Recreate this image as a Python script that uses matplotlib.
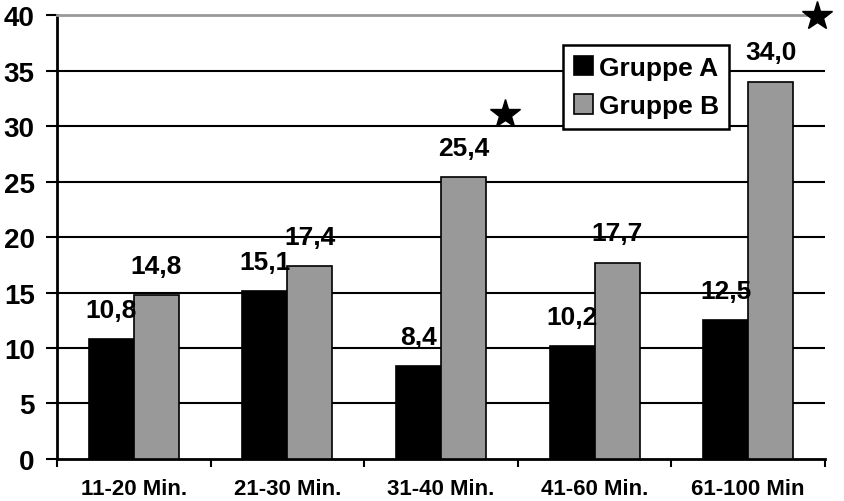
import matplotlib.pyplot as plt
import numpy as np

categories = ['11-20 Min.', '21-30 Min.', '31-40 Min.', '41-60 Min.', '61-100 Min']
gruppe_a = [10.8, 15.1, 8.4, 10.2, 12.5]
gruppe_b = [14.8, 17.4, 25.4, 17.7, 34.0]
labels_a = ['10,8', '15,1', '8,4', '10,2', '12,5']
labels_b = ['14,8', '17,4', '25,4', '17,7', '34,0']
# significance stars: category index, x offset within group, y value
star_cat = [2, 4]
star_dx = [0.415, 0.45]
star_y = [31.1, 39.9]

plt.rcParams['font.family'] = ['Liberation Sans', 'DejaVu Sans']
plt.rcParams['font.weight'] = 'bold'


def main():
    fig = plt.figure(figsize=(8.44, 5.02), dpi=100)
    ax = fig.add_axes([0.0675, 0.0837, 0.91, 0.8843])

    x = np.arange(len(categories))
    w = 0.293
    ax.bar(x - w / 2, gruppe_a, w, color='black', edgecolor='black', linewidth=1.2,
           label='Gruppe A', zorder=3)
    ax.bar(x + w / 2, gruppe_b, w, color='#999999', edgecolor='black', linewidth=1.2,
           label='Gruppe B', zorder=3)

    for xi, v, t in zip(x - w / 2, gruppe_a, labels_a):
        ax.annotate(t, (xi, v), xytext=(0, 21), textcoords='offset points',
                    ha='center', va='center', fontsize=19, fontweight='bold', zorder=4)
    for xi, v, t in zip(x + w / 2, gruppe_b, labels_b):
        ax.annotate(t, (xi, v), xytext=(0, 21), textcoords='offset points',
                    ha='center', va='center', fontsize=19, fontweight='bold', zorder=4)

    for c, dx, y in zip(star_cat, star_dx, star_y):
        ax.plot(c + dx, y, marker='*', color='black', markersize=22, clip_on=False, zorder=5)

    ax.set_xlim(-0.5, len(categories) - 0.5)
    ax.set_ylim(0, 40)
    ax.set_yticks(np.arange(0, 41, 5))
    for yv in range(5, 40, 5):
        ax.axhline(yv, color='black', linewidth=1.5, zorder=1)

    ax.set_xticks(x)
    ax.set_xticklabels(categories, fontsize=16, fontweight='bold')
    ax.set_xticks(np.arange(-0.5, len(categories)), minor=True)
    ax.tick_params(axis='x', which='major', length=0, pad=14)
    ax.tick_params(axis='x', which='minor', length=6, width=1.5, direction='out')
    ax.tick_params(axis='y', length=8, width=1.5, direction='out', labelsize=20, pad=8)
    for lab in ax.get_yticklabels():
        lab.set_fontweight('bold')

    ax.spines['right'].set_visible(False)
    ax.spines['top'].set_color('#999999')
    ax.spines['top'].set_linewidth(2)
    ax.spines['left'].set_linewidth(2)
    ax.spines['bottom'].set_linewidth(2)

    leg = ax.legend(loc='upper left', bbox_to_anchor=(0.659, 0.932), borderaxespad=0,
                    fancybox=False, framealpha=1, edgecolor='black',
                    prop={'size': 19, 'weight': 'bold'}, handlelength=0.75,
                    handleheight=0.75, handletextpad=0.2, borderpad=0.4,
                    labelspacing=0.55)
    leg.get_frame().set_linewidth(1.8)
    leg.set_zorder(6)

    fig.savefig('out.png', dpi=100)


if __name__ == '__main__':
    main()
